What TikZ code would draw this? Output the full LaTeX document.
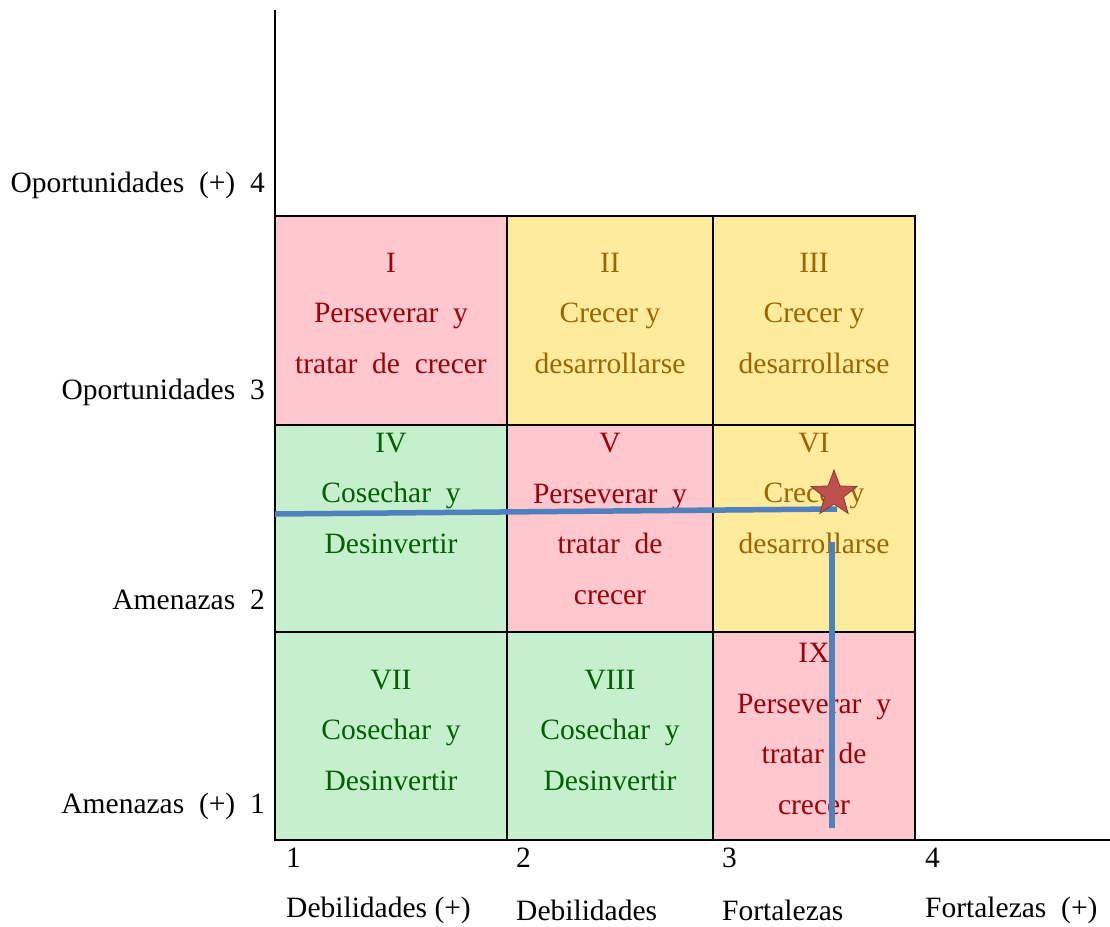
\documentclass[tikz,border=0pt]{standalone}
\usepackage{fontspec}
\setmainfont{Liberation Serif}
\usetikzlibrary{shapes.geometric}
\definecolor{pinkbg}{HTML}{FFC7CE}
\definecolor{pinktx}{HTML}{9C0006}
\definecolor{yellowbg}{HTML}{FFEB9C}
\definecolor{yellowtx}{HTML}{9C6500}
\definecolor{greenbg}{HTML}{C6EFCE}
\definecolor{greentx}{HTML}{006100}
\definecolor{bluel}{HTML}{4F81BD}
\definecolor{starfill}{HTML}{C0504D}
\definecolor{stardraw}{HTML}{8C3836}
\begin{document}
\begin{tikzpicture}[x=1pt,y=-1pt,
  cell/.style={draw=black,line width=1.6pt,anchor=north west,inner sep=0pt,outer sep=0pt},
  ctext/.style={align=center,inner sep=0pt,font=\fontsize{29.5}{50.5}\selectfont},
  axlab/.style={inner sep=0pt,font=\fontsize{29.5}{30}\selectfont},
  blue/.style={draw=bluel,line width=5.5pt},
  axis/.style={draw=black,line width=1.6pt}]
\useasboundingbox (0,0) rectangle (1110,926);
% cells
\node[cell,fill=pinkbg,minimum width=232,minimum height=209] (c1) at (275,216) {};
\node[cell,fill=yellowbg,minimum width=206,minimum height=209] (c2) at (507,216) {};
\node[cell,fill=yellowbg,minimum width=202,minimum height=209] (c3) at (713,216) {};
\node[cell,fill=greenbg,minimum width=232,minimum height=207] (c4) at (275,425) {};
\node[cell,fill=pinkbg,minimum width=206,minimum height=207] (c5) at (507,425) {};
\node[cell,fill=yellowbg,minimum width=202,minimum height=207] (c6) at (713,425) {};
\node[cell,fill=greenbg,minimum width=232,minimum height=208] (c7) at (275,632) {};
\node[cell,fill=greenbg,minimum width=206,minimum height=208] (c8) at (507,632) {};
\node[cell,fill=pinkbg,minimum width=202,minimum height=208] (c9) at (713,632) {};
% cell texts
\node[ctext,text=pinktx] (t1) at (391,313) {I\\Perseverar~ y\\tratar~ de~ crecer};
\node[ctext,text=yellowtx] (t2) at (610,313) {II\\Crecer y\\desarrollarse};
\node[ctext,text=yellowtx] (t3) at (814,313) {III\\Crecer y\\desarrollarse};
\node[ctext,text=greentx] (t4) at (391,493) {IV\\Cosechar~ y\\Desinvertir};
\node[ctext,text=pinktx] (t5) at (610,519) {V\\Perseverar~ y\\tratar~ de\\crecer};
\node[ctext,text=yellowtx] (t6) at (814,493) {VI\\Crecer y\\desarrollarse};
\node[ctext,text=greentx] (t7) at (391,730) {VII\\Cosechar~ y\\Desinvertir};
\node[ctext,text=greentx] (t8) at (610,730) {VIII\\Cosechar~ y\\Desinvertir};
\node[ctext,text=pinktx] (t9) at (814,729) {IX\\Perseverar~ y\\tratar~ de\\crecer};
% axes
\coordinate (o) at (275,840);
\coordinate (ytop) at (275,10);
\coordinate (xend) at (1110,840);
\draw[axis] (ytop) -- (o) -- (xend);
% left labels
\node[axlab,anchor=east] (l4) at (265,185) {Oportunidades~ (+)~ 4};
\node[axlab,anchor=east] (l3) at (265,392) {Oportunidades~ 3};
\node[axlab,anchor=east] (l2) at (265,600) {Amenazas~ 2};
\node[axlab,anchor=east] (l1) at (265,806) {Amenazas~ (+)~ 1};
% bottom labels
\node[axlab,anchor=west] (n1) at (286,858) {1};
\node[axlab,anchor=west] (n2) at (516,858) {2};
\node[axlab,anchor=west] (n3) at (722,858) {3};
\node[axlab,anchor=west] (n4) at (925,858) {4};
\node[axlab,anchor=west] (b1) at (286,910) {Debilidades (+)};
\node[axlab,anchor=west] (b2) at (516,910) {Debilidades};
\node[axlab,anchor=west] (b3) at (722,910) {Fortalezas};
\node[axlab,anchor=west] (b4) at (925,910) {Fortalezas~ (+)};
% position lines
\coordinate (hl) at (275,514);
\coordinate (hr) at (837,509);
\coordinate (vt) at (832,542);
\coordinate (vb) at (832,828);
\draw[blue] (hl) -- (hr);
\draw[blue] (vt) -- (vb);
% star
\node[star,star points=5,star point ratio=2.4,minimum size=48,inner sep=0pt,
  fill=starfill,draw=stardraw,line width=0.8pt] (st) at (834,494) {};
\end{tikzpicture}
\end{document}
